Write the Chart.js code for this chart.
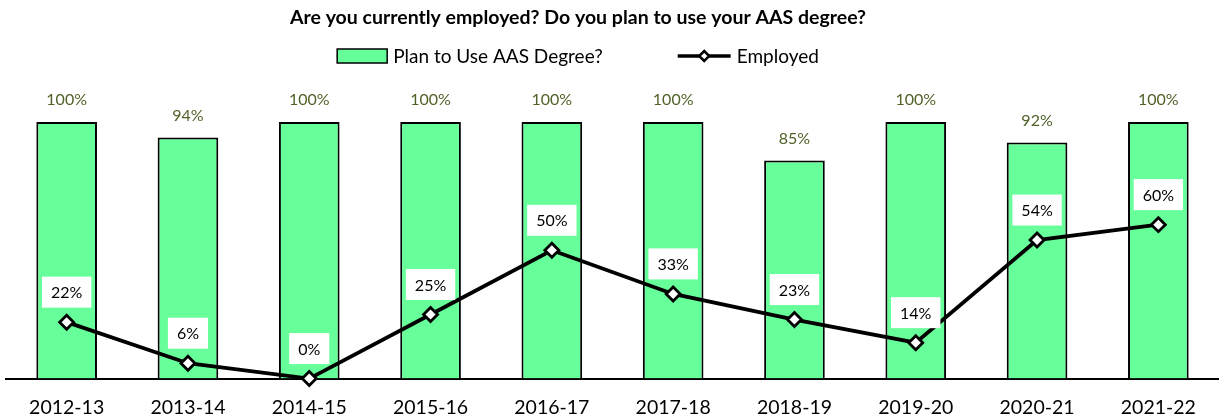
<!DOCTYPE html>
<html>
<head>
<meta charset="utf-8">
<script src="https://cdn.jsdelivr.net/npm/chart.js@4/dist/chart.umd.min.js"></script>
<style>
  html, body { margin: 0; padding: 0; background: #fff; }
  #wrap { width: 1219px; height: 417px; }
</style>
</head>
<body>
<div id="wrap"><canvas id="c" width="1219" height="417"></canvas></div>
<script>
const FONT = "Lato, 'Open Sans', 'DejaVu Sans', sans-serif";

const titleText = 'Are you currently employed? Do you plan to use your AAS degree?';
const years = ['2012-13', '2013-14', '2014-15', '2015-16', '2016-17', '2017-18', '2018-19', '2019-20', '2020-21', '2021-22'];
const planToUse = [100, 94, 100, 100, 100, 100, 85, 100, 92, 100];
const employed = [22, 6, 0, 25, 50, 33, 23, 14, 54, 60];
const seriesNames = ['Plan to Use AAS Degree?', 'Employed'];

const BAR_FILL = '#66FF99';
const BAR_LABEL = '#4F6228';

// Title, legend and value labels are painted onto the canvas by this plugin
const annotate = {
  id: 'annotate',
  afterDatasetsDraw(chart) {
    const ctx = chart.ctx;
    ctx.save();

    // bar values above each column
    const barMeta = chart.getDatasetMeta(1);
    ctx.font = '16px ' + FONT;
    ctx.fillStyle = BAR_LABEL;
    ctx.textAlign = 'center';
    ctx.textBaseline = 'middle';
    barMeta.data.forEach((el, i) => {
      ctx.fillText(planToUse[i] + '%', el.x, el.y - 22);
    });

    // line values in white boxes above each point
    const lineMeta = chart.getDatasetMeta(0);
    ctx.font = '16px ' + FONT;
    lineMeta.data.forEach((el, i) => {
      const txt = employed[i] + '%';
      const w = ctx.measureText(txt).width + 18;
      const h = 31;
      const cy = el.y - 30;
      ctx.fillStyle = '#ffffff';
      ctx.fillRect(el.x - w / 2, cy - h / 2, w, h);
      ctx.fillStyle = '#000000';
      ctx.fillText(txt, el.x, cy + 1);
    });

    // title
    const cx = 578;
    ctx.font = 'bold 19.5px ' + FONT;
    ctx.fillStyle = '#000';
    ctx.fillText(titleText, cx, 18);

    // legend
    ctx.font = '19px ' + FONT;
    const t1 = ctx.measureText(seriesNames[0]).width;
    const t2 = ctx.measureText(seriesNames[1]).width;
    const boxW = 50, gap = 6, between = 75, lineW = 53;
    const total = boxW + gap + t1 + between + lineW + gap + t2;
    let x = cx - total / 2;
    const ly = 56;
    ctx.fillStyle = BAR_FILL;
    ctx.fillRect(x, ly - 7, boxW, 14);
    ctx.strokeStyle = '#000';
    ctx.lineWidth = 1.5;
    ctx.strokeRect(x, ly - 7, boxW, 14);
    x += boxW + gap;
    ctx.fillStyle = '#000';
    ctx.textAlign = 'left';
    ctx.fillText(seriesNames[0], x, ly + 1);
    x += t1 + between;
    ctx.lineWidth = 3.5;
    ctx.beginPath();
    ctx.moveTo(x, ly);
    ctx.lineTo(x + lineW, ly);
    ctx.stroke();
    const dx = x + lineW / 2;
    ctx.beginPath();
    ctx.moveTo(dx, ly - 5);
    ctx.lineTo(dx + 5, ly);
    ctx.lineTo(dx, ly + 5);
    ctx.lineTo(dx - 5, ly);
    ctx.closePath();
    ctx.fillStyle = '#fff';
    ctx.fill();
    ctx.lineWidth = 2.5;
    ctx.stroke();
    x += lineW + gap;
    ctx.fillStyle = '#000';
    ctx.fillText(seriesNames[1], x, ly + 1);

    ctx.restore();
  }
};

new Chart(document.getElementById('c'), {
  type: 'bar',
  data: {
    labels: years,
    datasets: [
      {
        type: 'line',
        label: seriesNames[1],
        data: employed,
        order: 0,
        borderColor: '#000',
        borderWidth: 3.8,
        tension: 0,
        pointStyle: 'rectRot',
        pointRadius: 7,
        pointBorderWidth: 2.8,
        pointBackgroundColor: '#fff',
        pointBorderColor: '#000',
        clip: false
      },
      {
        type: 'bar',
        label: seriesNames[0],
        data: planToUse,
        order: 1,
        backgroundColor: BAR_FILL,
        borderColor: '#000',
        borderWidth: 2,
        categoryPercentage: 1,
        barPercentage: 0.5
      }
    ]
  },
  options: {
    responsive: false,
    animation: false,
    devicePixelRatio: 1,
    layout: { autoPadding: false, padding: { top: 122, left: 6, right: 0, bottom: -19 } },
    plugins: {
      legend: { display: false },
      title: { display: false },
      tooltip: { enabled: false }
    },
    scales: {
      x: {
        grid: { display: false, drawTicks: false },
        border: { display: true, color: '#000', width: 2 },
        ticks: { color: '#000', padding: 17, font: { family: FONT, size: 19.5 } }
      },
      y: {
        display: false,
        min: 0,
        max: 100
      }
    }
  },
  plugins: [annotate]
});
</script>
</body>
</html>
